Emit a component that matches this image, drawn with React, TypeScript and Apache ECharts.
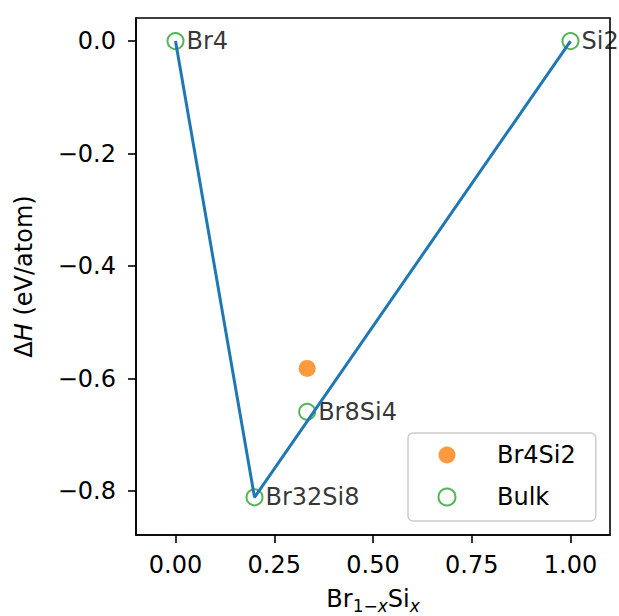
import React, { useEffect, useRef } from "react";
import * as echarts from "echarts";

const hullX = [0, 0.2, 1];
const hullY = [0, -0.811, 0];
const bulkNames = ["Br4", "Br32Si8", "Br8Si4", "Si2"];
const bulkX = [0, 0.2, 0.3333, 1];
const bulkY = [0, -0.811, -0.659, 0];
const candName = "Br4Si2";
const candX = [0.3333];
const candY = [-0.582];
const xTicks = [0, 0.25, 0.5, 0.75, 1];
const yTicks = [0, -0.2, -0.4, -0.6, -0.8];

const FONT = "DejaVu Sans";

export default function App() {
  const ref = useRef<HTMLDivElement>(null);
  useEffect(() => {
    if (!ref.current) return;
    const chart = echarts.init(ref.current, null, { renderer: "svg" });
    const axisCommon = {
      axisLine: { show: true, onZero: false, lineStyle: { color: "#000", width: 1.6 } },
      axisTick: { show: true, inside: false, length: 8, lineStyle: { color: "#000", width: 1.6 } },
      splitLine: { show: false },
    };
    chart.setOption({
      animation: false,
      backgroundColor: "#fff",
      grid: {
        left: 136,
        top: 18,
        right: 9,
        bottom: 81,
        containLabel: false,
        outerBoundsMode: "none",
        show: true,
        borderColor: "#000",
        borderWidth: 1.6,
        backgroundColor: "transparent",
      },
      xAxis: {
        type: "value",
        min: -0.1,
        max: 1.1,
        ...axisCommon,
        axisTick: { ...axisCommon.axisTick, customValues: xTicks },
        axisLabel: {
          customValues: xTicks,
          formatter: (v: number) => v.toFixed(2),
          fontFamily: FONT,
          fontSize: 24,
          color: "#000",
          margin: 18,
        },
        name: "{n|Br}{s|1−}{i|x}{n|Si}{i|x}",
        nameLocation: "middle",
        nameGap: 52,
        nameTextStyle: {
          rich: {
            n: { fontFamily: FONT, fontSize: 24, color: "#000", lineHeight: 24, verticalAlign: "top" },
            s: { fontFamily: FONT, fontSize: 17, color: "#000", lineHeight: 17, padding: [10, 0, 0, 0], verticalAlign: "top" },
            i: { fontFamily: FONT, fontSize: 17, fontStyle: "italic", color: "#000", lineHeight: 17, padding: [10, 0, 0, 0], verticalAlign: "top" },
          },
        },
      },
      yAxis: {
        type: "value",
        min: -0.878,
        max: 0.041,
        ...axisCommon,
        axisTick: { ...axisCommon.axisTick, customValues: yTicks },
        axisLabel: {
          customValues: yTicks,
          formatter: (v: number) => (Math.abs(v) < 1e-9 ? "0.0" : v.toFixed(1).replace("-", "−")),
          fontFamily: FONT,
          fontSize: 24,
          color: "#000",
          margin: 20,
        },
        name: "{n|Δ}{i|H}{n| (eV/atom)}",
        nameLocation: "middle",
        nameGap: 100,
        nameTextStyle: {
          rich: {
            n: { fontFamily: FONT, fontSize: 24, color: "#000" },
            i: { fontFamily: FONT, fontSize: 24, fontStyle: "italic", color: "#000" },
          },
        },
      },
      legend: {
        left: 408,
        top: 433,
        orient: "vertical",
        padding: [8, 20, 10, 29.5],
        itemWidth: 90,
        itemHeight: 17,
        itemGap: 14,
        backgroundColor: "rgba(255,255,255,0.8)",
        borderColor: "#cccccc",
        borderWidth: 1.5,
        borderRadius: 5,
        data: [candName, "Bulk"],
        textStyle: {
          fontFamily: FONT,
          fontSize: 24,
          color: "#000",
          lineHeight: 28,
        },
      },
      series: [
        {
          name: candName,
          type: "scatter",
          symbol: "circle",
          symbolSize: 17,
          itemStyle: { color: "#ff7f0e" },
          data: candX.map((x, i) => [x, candY[i]]),
          z: 2,
        },
        {
          name: "Bulk",
          type: "scatter",
          symbol: "circle",
          symbolSize: 16,
          itemStyle: { color: "rgba(255,255,255,0)", borderColor: "#2ca02c", borderWidth: 2 },
          data: bulkX.map((x, i) => ({ name: bulkNames[i], value: [x, bulkY[i]] })),
          label: {
            show: true,
            position: "right",
            distance: 2,
            formatter: "{b}",
            fontFamily: FONT,
            fontSize: 24,
            color: "#000",
          },
          z: 3,
        },
        {
          name: "hull",
          type: "line",
          symbol: "none",
          lineStyle: { color: "#1f77b4", width: 3 },
          data: hullX.map((x, i) => [x, hullY[i]]),
          z: 4,
        },
      ],
    });
    return () => chart.dispose();
  }, []);
  return <div ref={ref} style={{ width: 619, height: 616, position: "absolute", left: 0, top: 0 }} />;
}
